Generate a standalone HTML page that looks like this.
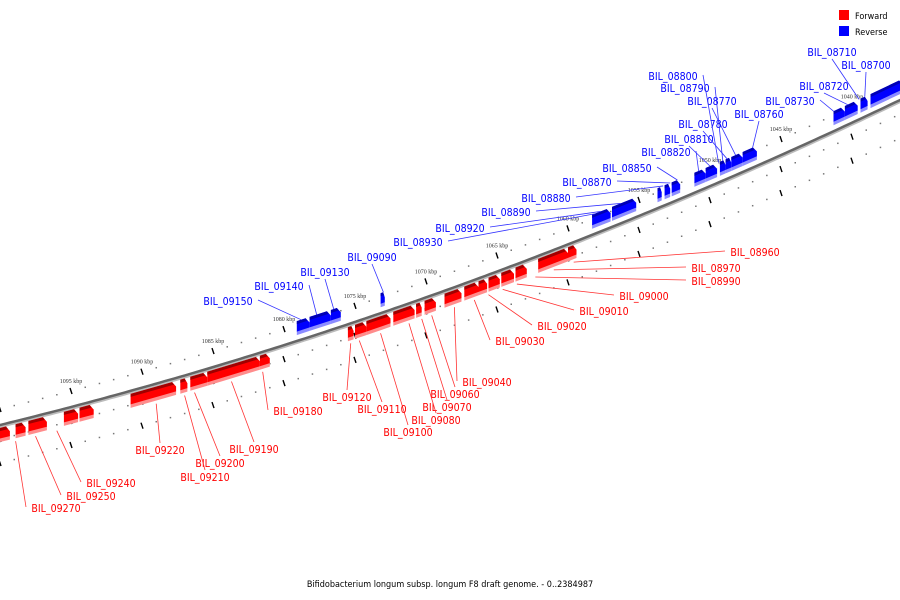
<!DOCTYPE html>
<html><head><meta charset="utf-8"><style>
html,body{margin:0;padding:0;background:#fff;}
svg{display:block;font-family:"DejaVu Sans Condensed","DejaVu Sans","Liberation Sans",sans-serif;}
</style></head><body>
<svg id="map" width="900" height="600" viewBox="0 0 900 600">
<g>
<rect x="839" y="10" width="10" height="10" fill="#f00"/>
<text x="855" y="19" font-size="9" fill="#000">Forward</text>
<rect x="839" y="26" width="10" height="10" fill="#00f"/>
<text x="855" y="35" font-size="9" fill="#000">Reverse</text>
</g>
<text x="450" y="587" font-size="9" text-anchor="middle" fill="#000">Bifidobacterium longum subsp. longum F8 draft genome. - 0..2384987</text>
<g id="layer"></g>
</svg>
<script>
// scale ticks (kbp)
const scaleKbp = [1040,1045,1050,1055,1060,1065,1070,1075,1080,1085,1090,1095];
// forward genes: start/end kbp
const fwdStart = [1100.0,1098.9,1098.0,1095.5,1094.4,1090.8,1087.3,1086.6,1085.4,1081.7,1075.5,1075.0,1074.2,1072.3,1070.7,1070.1,1068.7,1067.3,1066.3,1065.6,1064.7,1063.7,1062.1,1060.0];
const fwdEnd   = [1099.3,1098.2,1096.7,1094.5,1093.4,1087.6,1086.8,1085.4,1081.7,1081.0,1075.1,1074.2,1072.5,1070.8,1070.3,1069.3,1067.5,1066.3,1065.7,1064.8,1063.8,1062.9,1060.0,1059.4];
// reverse genes
const revStart = [1079.1,1078.2,1076.7,1073.2,1058.3,1056.9,1053.7,1053.2,1052.7,1051.1,1050.3,1049.3,1048.9,1048.5,1047.7,1041.3,1040.5,1039.4,1038.7];
const revEnd   = [1078.2,1076.7,1076.0,1072.9,1057.0,1055.2,1053.4,1052.8,1052.1,1050.3,1049.5,1048.9,1048.5,1047.7,1046.7,1040.5,1039.6,1038.9,1036.4];
// labels
const fwdNames = ["BIL_08960","BIL_08970","BIL_08990","BIL_09000","BIL_09010","BIL_09020","BIL_09030","BIL_09040","BIL_09060","BIL_09070","BIL_09080","BIL_09100","BIL_09110","BIL_09120","BIL_09180","BIL_09190","BIL_09200","BIL_09210","BIL_09220","BIL_09240","BIL_09250","BIL_09270"];
const fwdTarget = [1059.6,1061.0,1062.3,1063.6,1064.6,1065.6,1066.6,1068.0,1069.6,1070.3,1071.2,1073.2,1074.7,1075.3,1081.5,1083.7,1086.3,1087.0,1089.0,1096.0,1097.5,1098.9];
const fwdLabX = [755,716,716,644,604,562,520,487,455,447,436,408,382,347,298,254,220,205,160,111,91,56];
const fwdLabY = [256,272,285,300,315,330,345,386,398,411,424,436,413,401,415,453,467,481,454,487,500,512];
const revNames = ["BIL_08700","BIL_08710","BIL_08720","BIL_08730","BIL_08760","BIL_08770","BIL_08780","BIL_08790","BIL_08800","BIL_08810","BIL_08820","BIL_08850","BIL_08870","BIL_08880","BIL_08890","BIL_08920","BIL_08930","BIL_09090","BIL_09130","BIL_09140","BIL_09150"];
const revTarget = [1039.1,1039.5,1040.3,1041.3,1047.0,1048.2,1048.8,1049.1,1049.4,1050.0,1050.8,1052.3,1052.8,1053.3,1056.3,1057.7,1058.1,1073.0,1076.5,1077.7,1078.8];
const revLabX = [866,832,824,790,759,712,703,685,673,689,666,627,587,546,506,460,418,372,325,279,228];
const revLabY = [69,56,90,105,118,105,128,92,80,143,156,172,186,202,216,232,246,261,276,290,305];

const NS="http://www.w3.org/2000/svg";
const layer=document.getElementById('layer');
function xOf(k){return 852-(k-1040)*14.2;}
function yOf(x){return 425-0.2444*x-1.296e-4*x*x;}
function mk(tag,attrs,parent){const e=document.createElementNS(NS,tag);for(const a in attrs)e.setAttribute(a,attrs[a]);(parent||layer).appendChild(e);return e;}

let d="";for(let x=-5;x<=905;x+=5){d+=(x==-5?"M":"L")+x+","+(yOf(x)).toFixed(1);}
const bbS=mk('path',{d:d,fill:'none',stroke:'#bbb','stroke-width':4,transform:'translate(0,1)'});


const bb=mk('path',{d:d,fill:'none',stroke:'#666','stroke-width':2.5});



const rows=[-16,14,38];
rows.forEach((off)=>{
  for(let k=1034;k<=1102;k++){
    const x=xOf(k); if(x<-5||x>905)continue;
    const y=yOf(x)+off;
    if(k%5==0){
      const t=mk('line',{x1:x-1,y1:y-3,x2:x+1,y2:y+3,stroke:'#000','stroke-width':1.4});
      
      
    } else {
      const c=mk('rect',{x:x-0.7,y:y-0.7,width:1.5,height:1.5,fill:'#777'});
      
      
    }
  }
});
scaleKbp.forEach(k=>{
  const x=xOf(k);
  const t=mk('text',{x:x,y:yOf(x)-24,'font-size':6,'text-anchor':'middle',fill:'#333','font-family':'Liberation Serif,serif'});
  t.textContent=k+" kbp";
  
  
});

function gene(s,e,fwd,i){
  const x1=xOf(s),x2=xOf(e);
  const g=mk('g',{});
  
  
  const h=14, tip=Math.min(4,(x2-x1)*0.4);
  const off=fwd?3:-3-h-3;
  const P=(x,o)=>x.toFixed(1)+","+(yOf(x)+off+o).toFixed(1);
  const xm=x2-tip;
  const body=[P(x1,0),P(xm,0),P(x2,h*0.4),P(x2,h*0.75),P(x1,h*0.75)].join(" ");
  const light=[P(x1,h*0.7),P(x2,h*0.7),P(x2,h),P(x1,h)].join(" ");
  mk('polygon',{points:light,fill:fwd?'#ff8c8c':'#8c8cff'},g);
  mk('polygon',{points:body,fill:fwd?'#f00':'#00f'},g);
  const top=[P(x1,0),P(xm,0),P(xm+tip*0.5,h*0.22),P(x1,h*0.22)].join(" ");
  mk('polygon',{points:top,fill:fwd?'#a00000':'#0000b4'},g);
}
fwdStart.forEach((s,i)=>gene(s,fwdEnd[i],true,i));
revStart.forEach((s,i)=>gene(s,revEnd[i],false,i));

function label(name,k,lx,ly,fwd){
  const x=xOf(k), y=yOf(x)+(fwd?20:-20);
  let ex=lx, ey=fwd?ly-11:ly+3;
  if(x<lx-30){ex=lx-30;ey=ly-5;}
  else if(x>lx+30){ex=lx+30;ey=ly-5;}
  const ln=mk('line',{x1:x,y1:y,x2:ex,y2:ey,stroke:fwd?'#f33':'#33f','stroke-width':0.8});
  
  
  const t=mk('text',{x:lx,y:ly,'font-size':10.5,'text-anchor':'middle',fill:fwd?'#f00':'#00f','font-stretch':'condensed'});
  t.textContent=name;
  
  
}
fwdNames.forEach((n,i)=>label(n,fwdTarget[i],fwdLabX[i],fwdLabY[i],true));
revNames.forEach((n,i)=>label(n,revTarget[i],revLabX[i],revLabY[i],false));
</script>
</body></html>
